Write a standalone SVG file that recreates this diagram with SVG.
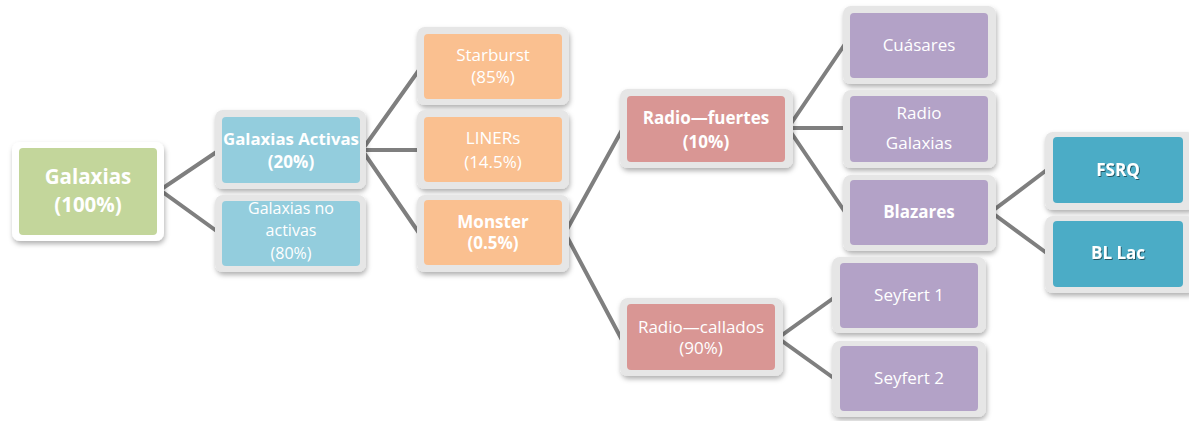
<svg xmlns="http://www.w3.org/2000/svg" width="1189" height="421" viewBox="0 0 1189 421">
<defs>
<filter id="sh" x="-10%" y="-10%" width="125%" height="130%">
<feDropShadow dx="1" dy="3" stdDeviation="2.5" flood-color="#000" flood-opacity="0.3"/>
</filter>
<filter id="tsh" x="-10%" y="-20%" width="130%" height="150%">
<feDropShadow dx="1" dy="1" stdDeviation="0.6" flood-color="#000" flood-opacity="0.5"/>
</filter>
</defs>
<style>
.fr{fill:#e6e6e6;filter:url(#sh)}
.frw{fill:#ffffff;filter:url(#sh)}
.g{fill:#c3d69b}.b{fill:#93cddd}.o{fill:#fac090}.r{fill:#d99694}.p{fill:#b3a2c7}.t{fill:#4bacc6}
text{font-family:"Open Sans","Noto Sans","Liberation Sans",sans-serif;fill:#ffffff;text-anchor:middle;font-size:17px}
.bd{font-weight:bold}
.sm{font-size:16px}
.ts{filter:url(#tsh)}
.cn{stroke:#7f7f7f;stroke-width:4;fill:none;stroke-linejoin:miter}
</style>
<g id="connectors">
<polyline class="cn" points="218,151 160,190 218,232"/>
<polyline class="cn" points="419,70 362,150 419,233"/>
<line class="cn" x1="362" y1="150" x2="419" y2="150"/>
<polyline class="cn" points="622,130 565,233 622,340"/>
<polyline class="cn" points="845,44 788,128 845,212"/>
<line class="cn" x1="788" y1="128" x2="845" y2="128"/>
<polyline class="cn" points="1048,169 991,212 1048,254"/>
<polyline class="cn" points="835,297 778,338 835,379"/>
</g>
<g id="n-galaxias">
<rect class="frw" x="12" y="142" width="152" height="99" rx="8"/>
<rect class="g" x="19" y="148" width="138" height="87" rx="4"/>
<text class="bd" x="88" y="184" style="font-size:20.5px">Galaxias</text>
<text class="bd" x="88" y="212" style="font-size:20.5px">(100%)</text>
</g>
<g id="n-activas">
<rect class="fr" x="215" y="110" width="151" height="79" rx="8"/>
<rect class="b" x="222" y="117" width="138" height="66" rx="4"/>
<text class="bd" x="291" y="145" style="font-size:16.8px">Galaxias Activas</text>
<text class="bd" x="291" y="168">(20%)</text>
</g>
<g id="n-noactivas">
<rect class="fr" x="215" y="195" width="151" height="77" rx="8"/>
<rect class="b" x="222" y="201" width="138" height="65" rx="4"/>
<text class="sm" x="291" y="214">Galaxias no</text>
<text class="sm" x="291" y="236">activas</text>
<text class="sm" x="291" y="259">(80%)</text>
</g>
<g id="n-starburst">
<rect class="fr" x="417" y="27" width="152" height="78" rx="8"/>
<rect class="o" x="424" y="34" width="138" height="65" rx="4"/>
<text x="493" y="61">Starburst</text>
<text x="493" y="83">(85%)</text>
</g>
<g id="n-liners">
<rect class="fr" x="417" y="110" width="152" height="79" rx="8"/>
<rect class="o" x="424" y="117" width="138" height="65" rx="4"/>
<text x="493" y="144">LINERs</text>
<text x="493" y="168">(14.5%)</text>
</g>
<g id="n-monster">
<rect class="fr" x="417" y="195" width="152" height="77" rx="8"/>
<rect class="o" x="424" y="200" width="138" height="65" rx="4"/>
<text class="bd" x="493" y="228">Monster</text>
<text class="bd" x="493" y="249">(0.5%)</text>
</g>
<g id="n-fuertes">
<rect class="fr" x="620" y="89" width="173" height="79" rx="8"/>
<rect class="r" x="627" y="96" width="158" height="66" rx="4"/>
<text class="bd" x="706" y="124">Radio—fuertes</text>
<text class="bd" x="706" y="148">(10%)</text>
</g>
<g id="n-callados">
<rect class="fr" x="620" y="298" width="163" height="78" rx="8"/>
<rect class="r" x="627" y="304" width="148" height="66" rx="4"/>
<text x="701" y="333">Radio—callados</text>
<text x="701" y="354">(90%)</text>
</g>
<g id="n-cuasares">
<rect class="fr" x="843" y="6" width="153" height="78" rx="8"/>
<rect class="p" x="850" y="13" width="138" height="65" rx="4"/>
<text x="919" y="51">Cuásares</text>
</g>
<g id="n-radiogalaxias">
<rect class="fr" x="843" y="90" width="153" height="78" rx="8"/>
<rect class="p" x="850" y="96" width="138" height="66" rx="4"/>
<text x="919" y="119">Radio</text>
<text x="919" y="149">Galaxias</text>
</g>
<g id="n-blazares">
<rect class="fr" x="843" y="175" width="153" height="76" rx="8"/>
<rect class="p" x="850" y="180" width="138" height="65" rx="4"/>
<text class="bd" x="919" y="218">Blazares</text>
</g>
<g id="n-seyfert1">
<rect class="fr" x="832" y="257" width="154" height="76" rx="8"/>
<rect class="p" x="840" y="263" width="138" height="65" rx="4"/>
<text x="909" y="301">Seyfert 1</text>
</g>
<g id="n-seyfert2">
<rect class="fr" x="832" y="341" width="154" height="76" rx="8"/>
<rect class="p" x="840" y="346" width="138" height="65" rx="4"/>
<text x="909" y="384">Seyfert 2</text>
</g>
<g id="n-fsrq">
<rect class="fr" x="1045" y="132" width="150" height="78" rx="8"/>
<rect class="t" x="1053" y="137" width="130" height="66" rx="4"/>
<text class="bd ts" x="1118" y="176">FSRQ</text>
</g>
<g id="n-bllac">
<rect class="fr" x="1045" y="216" width="150" height="77" rx="8"/>
<rect class="t" x="1053" y="221" width="130" height="66" rx="4"/>
<text class="bd ts" x="1118" y="259">BL Lac</text>
</g>
</svg>
